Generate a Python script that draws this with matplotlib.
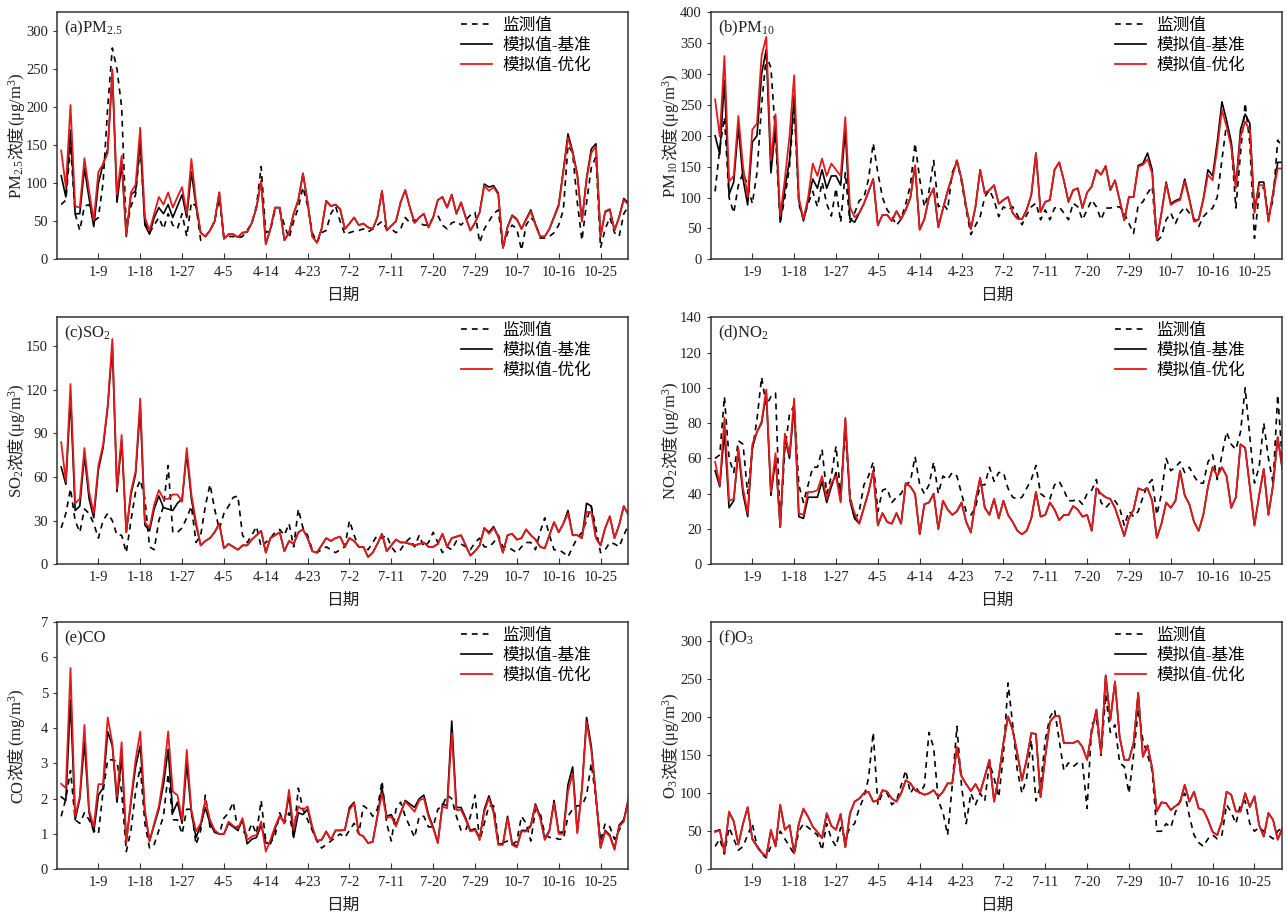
import numpy as np
import matplotlib
matplotlib.use("Agg")
import matplotlib.pyplot as plt
from matplotlib.transforms import IdentityTransform

plt.rcParams['font.family'] = ['Liberation Serif', 'Noto Sans CJK SC']
plt.rcParams['mathtext.fontset'] = 'custom'
plt.rcParams['mathtext.rm'] = 'Liberation Serif'
plt.rcParams['mathtext.it'] = 'Liberation Serif:italic'
plt.rcParams['axes.unicode_minus'] = False

# ---------- data ----------
TICK_POS = [8, 17, 26, 35, 44, 53, 62, 71, 80, 89, 98, 107, 116]
TICK_LABELS = ["1-9", "1-18", "1-27", "4-5", "4-14", "4-23", "7-2", "7-11",
               "7-20", "7-29", "10-7", "10-16", "10-25"]
LEGEND_LABELS = ["监测值", "模拟值-基准", "模拟值-优化"]

PM25_OBS = [72, 78, 150, 60, 38, 70, 72, 50, 55, 100,
            200, 278, 250, 200, 40, 70, 85, 150, 50, 35,
            45, 55, 40, 60, 45, 40, 60, 30, 75, 70,
            25, 30, 38, 50, 80, 28, 30, 30, 28, 30,
            38, 48, 70, 122, 35, 38, 65, 65, 45, 28,
            50, 68, 95, 70, 35, 22, 35, 38, 60, 70,
            50, 33, 35, 37, 38, 40, 36, 40, 45, 50,
            40, 40, 35, 40, 55, 48, 52, 48, 45, 45,
            55, 58, 45, 40, 48, 50, 45, 52, 58, 62,
            22, 40, 50, 60, 65, 15, 35, 45, 40, 12,
            45, 55, 48, 28, 28, 30, 35, 45, 65, 150,
            140, 75, 25, 75, 120, 135, 15, 40, 55, 35,
            30, 60, 70]
PM25_BASE = [110, 82, 170, 60, 60, 120, 80, 43, 100, 125,
             145, 245, 75, 125, 30, 85, 90, 155, 45, 33,
             55, 68, 60, 72, 55, 70, 85, 55, 115, 70,
             35, 30, 38, 50, 88, 27, 33, 33, 29, 35,
             36, 48, 68, 103, 20, 40, 68, 68, 25, 35,
             60, 78, 113, 75, 30, 22, 40, 77, 70, 72,
             66, 40, 47, 55, 45, 47, 42, 40, 55, 90,
             38, 44, 50, 75, 91, 68, 48, 55, 60, 42,
             55, 78, 82, 68, 85, 60, 75, 55, 38, 48,
             62, 99, 95, 97, 87, 15, 43, 58, 53, 40,
             53, 65, 46, 30, 30, 40, 56, 72, 117, 165,
             142, 112, 50, 107, 145, 152, 30, 63, 66, 38,
             56, 80, 74]
PM25_OPT = [143, 95, 203, 70, 68, 133, 90, 51, 115, 125,
            140, 250, 85, 136, 32, 88, 98, 173, 55, 38,
            60, 82, 72, 88, 68, 82, 95, 60, 132, 75,
            35, 30, 38, 50, 88, 27, 33, 33, 29, 35,
            36, 48, 68, 103, 20, 40, 68, 68, 25, 35,
            60, 78, 113, 75, 30, 22, 40, 77, 70, 72,
            66, 40, 47, 55, 45, 47, 42, 40, 55, 90,
            38, 44, 50, 75, 91, 68, 48, 55, 60, 42,
            55, 78, 82, 68, 85, 60, 75, 55, 38, 48,
            62, 97, 90, 95, 85, 15, 42, 57, 52, 40,
            52, 63, 45, 30, 30, 40, 55, 70, 115, 160,
            140, 110, 50, 105, 140, 148, 30, 62, 65, 38,
            55, 78, 72]

PM10_OBS = [110, 180, 230, 100, 75, 120, 140, 120, 90, 140,
            250, 330, 310, 200, 60, 100, 150, 250, 90, 65,
            90, 110, 85, 125, 90, 70, 115, 60, 140, 60,
            75, 95, 100, 130, 188, 140, 100, 80, 70, 55,
            65, 90, 120, 188, 130, 85, 110, 160, 85, 90,
            80, 140, 160, 125, 80, 40, 55, 69, 101, 112,
            96, 69, 85, 80, 85, 72, 56, 72, 85, 91,
            64, 80, 64, 83, 85, 75, 64, 91, 85, 64,
            80, 96, 85, 64, 83, 83, 85, 85, 75, 58,
            42, 88, 93, 107, 118, 29, 37, 64, 75, 58,
            75, 85, 75, 66, 53, 69, 77, 83, 101, 161,
            220, 188, 83, 172, 253, 188, 34, 107, 118, 69,
            96, 193, 182]
PM10_BASE = [200, 170, 290, 105, 125, 215, 130, 88, 190, 200,
             300, 340, 140, 215, 60, 115, 160, 265, 95, 62,
             95, 130, 115, 145, 115, 135, 135, 120, 210, 65,
             60, 75, 90, 110, 130, 55, 72, 72, 62, 78,
             65, 80, 100, 152, 48, 65, 100, 115, 52, 82,
             110, 135, 160, 130, 85, 49, 85, 145, 107, 112,
             120, 90, 96, 101, 75, 66, 65, 80, 104, 172,
             77, 93, 96, 145, 157, 128, 93, 112, 115, 83,
             108, 118, 145, 137, 151, 112, 128, 96, 63, 101,
             101, 152, 155, 172, 145, 31, 75, 125, 90, 95,
             98, 130, 98, 62, 65, 98, 145, 135, 190, 255,
             225, 190, 118, 210, 235, 220, 77, 125, 125, 62,
             108, 157, 157]
PM10_OPT = [259, 199, 329, 126, 135, 232, 150, 101, 210, 220,
            330, 360, 160, 235, 70, 130, 200, 298, 100, 65,
            100, 155, 135, 163, 135, 155, 145, 135, 230, 85,
            68, 75, 90, 110, 130, 55, 72, 72, 62, 78,
            65, 80, 100, 152, 48, 65, 100, 115, 52, 82,
            110, 135, 160, 130, 85, 49, 85, 145, 107, 112,
            120, 90, 96, 101, 75, 66, 65, 80, 104, 172,
            77, 93, 96, 145, 157, 128, 93, 112, 115, 83,
            108, 118, 145, 137, 151, 112, 128, 96, 63, 101,
            101, 150, 153, 162, 139, 31, 75, 123, 88, 93,
            96, 126, 96, 61, 64, 96, 137, 128, 180, 242,
            215, 182, 115, 199, 223, 209, 75, 120, 120, 61,
            107, 147, 147]

SO2_OBS = [25, 35, 52, 30, 22, 38, 35, 28, 18, 30,
           35, 30, 20, 20, 8, 30, 50, 58, 45, 12,
           10, 30, 40, 68, 22, 22, 25, 32, 40, 15,
           20, 40, 55, 38, 24, 35, 40, 46, 47, 20,
           15, 20, 26, 12, 15, 18, 22, 24, 20, 28,
           12, 38, 25, 20, 10, 8, 10, 12, 10, 8,
           10, 12, 30, 20, 12, 12, 10, 15, 20, 18,
           20, 12, 8, 10, 15, 18, 12, 20, 12, 15,
           22, 15, 8, 12, 10, 16, 14, 12, 10, 15,
           18, 12, 12, 15, 20, 12, 12, 10, 8, 12,
           15, 15, 10, 22, 32, 20, 10, 10, 8, 5,
           12, 18, 22, 30, 40, 25, 8, 10, 15, 14,
           12, 20, 27]
SO2_BASE = [67, 55, 115, 37, 40, 75, 45, 32, 65, 80,
            108, 150, 50, 85, 22, 48, 62, 108, 27, 23,
            38, 47, 39, 38, 37, 42, 45, 76, 45, 27,
            13, 16, 18, 22, 28, 11, 14, 12, 10, 13,
            13, 17, 20, 23, 8, 18, 20, 22, 9, 16,
            14, 22, 24, 18, 9, 8, 13, 18, 16, 18,
            19, 12, 18, 16, 12, 12, 5, 8, 14, 21,
            9, 13, 17, 15, 15, 14, 13, 14, 15, 12,
            12, 14, 21, 12, 18, 19, 20, 13, 6, 9,
            13, 25, 22, 26, 19, 8, 20, 21, 17, 18,
            24, 20, 17, 12, 11, 20, 29, 22, 28, 37,
            20, 20, 18, 42, 40, 18, 13, 25, 33, 18,
            27, 40, 34]
SO2_OPT = [84, 57, 124, 42, 45, 80, 50, 35, 68, 82,
           109, 155, 52, 89, 22, 50, 64, 114, 29, 25,
           41, 51, 45, 45, 48, 48, 43, 80, 48, 29,
           13, 16, 18, 22, 28, 11, 14, 12, 10, 13,
           13, 17, 20, 23, 8, 18, 20, 22, 9, 16,
           14, 22, 24, 18, 9, 8, 13, 18, 16, 18,
           19, 12, 18, 16, 12, 12, 5, 8, 14, 21,
           9, 13, 17, 15, 15, 14, 13, 14, 15, 12,
           12, 14, 21, 12, 18, 19, 20, 13, 6, 9,
           13, 25, 21, 25, 19, 8, 20, 21, 17, 18,
           24, 20, 17, 12, 11, 20, 29, 22, 28, 35,
           20, 20, 18, 36, 36, 18, 13, 25, 33, 18,
           27, 40, 34]

NO2_OBS = [60, 62, 95, 60, 52, 70, 68, 40, 65, 82,
           106, 90, 95, 97, 22, 65, 85, 90, 45, 35,
           45, 55, 55, 65, 40, 50, 67, 40, 75, 40,
           25, 30, 45, 50, 58, 30, 42, 43, 35, 38,
           40, 45, 47, 61, 45, 40, 45, 58, 40, 50,
           48, 52, 50, 40, 30, 28, 32, 45, 45, 55,
           47, 52, 52, 43, 38, 37, 38, 43, 48, 56,
           40, 38, 37, 45, 47, 42, 36, 36, 37, 34,
           40, 42, 48, 35, 32, 35, 36, 32, 22, 30,
           27, 30, 38, 45, 48, 28, 40, 60, 53, 55,
           58, 52, 55, 50, 46, 46, 58, 62, 48, 62,
           75, 68, 65, 75, 100, 72, 46, 55, 80, 60,
           46, 96, 58]
NO2_BASE = [53, 44, 75, 32, 36, 64, 40, 27, 66, 75,
            80, 97, 39, 60, 21, 72, 60, 90, 27, 26,
            38, 38, 38, 47, 35, 44, 52, 36, 82, 36,
            26, 23, 32, 41, 53, 22, 29, 24, 23, 29,
            23, 46, 44, 40, 17, 34, 35, 40, 20, 36,
            31, 28, 30, 35, 24, 18, 36, 49, 32, 28,
            37, 26, 36, 28, 24, 19, 17, 19, 26, 41,
            27, 28, 35, 31, 25, 28, 28, 33, 31, 27,
            28, 19, 43, 40, 38, 37, 32, 24, 16, 26,
            31, 43, 42, 43, 36, 15, 23, 35, 32, 36,
            53, 39, 34, 24, 19, 28, 44, 55, 50, 55,
            50, 32, 38, 68, 66, 44, 22, 39, 54, 28,
            45, 72, 54]
NO2_OPT = [58, 45, 83, 36, 37, 66, 43, 29, 68, 75,
           81, 99, 41, 63, 21, 74, 62, 94, 29, 28,
           41, 41, 42, 50, 37, 46, 50, 35, 83, 37,
           29, 23, 32, 41, 53, 22, 29, 24, 23, 29,
           23, 46, 44, 40, 17, 34, 35, 40, 20, 36,
           31, 28, 30, 35, 24, 18, 36, 49, 32, 28,
           37, 26, 36, 28, 24, 19, 17, 19, 26, 41,
           27, 28, 35, 31, 25, 28, 28, 33, 31, 27,
           28, 19, 43, 40, 38, 37, 32, 24, 16, 26,
           31, 43, 42, 43, 36, 15, 23, 35, 32, 36,
           53, 39, 34, 24, 19, 28, 44, 55, 50, 55,
           50, 32, 38, 68, 66, 44, 22, 39, 54, 28,
           45, 72, 54]

CO_OBS = [1.5, 2.0, 2.8, 1.4, 1.3, 1.6, 1.4, 1.1, 1.0, 2.2,
          3.1, 3.1, 3.05, 2.2, 0.5, 1.1, 2.2, 2.9, 1.3, 0.6,
          0.7, 1.1, 1.5, 2.7, 1.4, 1.4, 1.0, 1.7, 1.7, 0.7,
          1.1, 2.1, 1.2, 1.05, 1.0, 1.45, 1.6, 1.9, 1.1, 1.1,
          0.95, 1.3, 1.0, 1.95, 0.8, 0.75, 0.95, 1.6, 1.3, 1.6,
          0.9, 2.3, 1.7, 1.4, 1.1, 0.8, 0.6, 0.7, 0.8, 0.9,
          1.0, 0.9, 1.1, 1.3, 1.0, 1.8, 1.7, 1.5, 1.7, 2.5,
          1.3, 0.8, 1.7, 1.9, 1.5, 1.2, 0.9, 1.5, 1.5, 1.2,
          1.2, 1.7, 1.8, 2.1, 2.0, 1.5, 1.1, 1.1, 1.5, 2.1,
          0.8, 1.3, 1.8, 1.8, 0.85, 0.75, 0.8, 0.7, 0.8, 1.5,
          1.3, 0.8, 1.7, 1.6, 1.0, 0.9, 0.9, 0.85, 0.85, 1.5,
          1.7, 1.8, 1.8, 2.1, 3.0, 2.0, 0.8, 1.3, 1.2, 0.85,
          1.1, 1.4, 1.9]
CO_BASE = [2.05, 1.95, 4.8, 1.4, 2.0, 3.6, 1.6, 1.05, 2.1, 2.3,
           3.9, 3.5, 1.9, 3.2, 0.8, 1.9, 2.9, 3.5, 1.6, 0.8,
           1.25, 1.7, 2.4, 3.4, 1.6, 1.9, 1.3, 3.0, 1.6, 0.9,
           1.25, 1.75, 1.3, 1.05, 1.0, 1.0, 1.3, 1.2, 1.1, 1.4,
           0.72, 0.85, 0.9, 1.25, 0.75, 0.72, 1.15, 1.5, 1.35, 2.1,
           0.9, 1.6, 1.55, 1.7, 1.15, 0.8, 0.83, 1.07, 0.83, 1.1,
           1.1, 1.11, 1.75, 1.9, 1.0, 0.93, 0.74, 0.78, 1.5, 2.3,
           1.5, 1.55, 1.25, 1.6, 1.95, 1.85, 1.75, 2.0, 2.1, 1.55,
           1.2, 0.75, 1.85, 1.8, 4.2, 1.75, 1.75, 1.45, 1.1, 1.15,
           0.88, 1.7, 2.08, 1.65, 0.72, 0.72, 1.5, 0.72, 0.65, 1.1,
           1.1, 1.25, 1.85, 1.5, 0.87, 1.1, 1.95, 1.05, 1.05, 2.4,
           2.9, 1.05, 2.3, 4.3, 3.5, 2.1, 0.62, 1.1, 0.97, 0.58,
           1.25, 1.4, 2.0]
CO_OPT = [2.42, 2.3, 5.7, 1.5, 2.06, 4.09, 1.68, 1.2, 2.41, 2.41,
          4.3, 3.57, 2.06, 3.6, 0.74, 1.96, 3.1, 3.9, 1.68, 0.8,
          1.3, 1.78, 2.63, 3.9, 2.2, 2.1, 1.4, 3.38, 1.68, 1.07,
          1.3, 1.96, 1.4, 1.11, 1.0, 1.0, 1.35, 1.23, 1.16, 1.45,
          0.83, 0.93, 0.97, 1.35, 0.5, 0.83, 1.21, 1.51, 1.3, 2.25,
          1.11, 1.78, 1.68, 1.78, 1.21, 0.81, 0.83, 1.07, 0.83, 1.1,
          1.1, 1.11, 1.68, 1.87, 1.0, 0.93, 0.74, 0.78, 1.49, 2.15,
          1.45, 1.49, 1.21, 1.59, 1.92, 1.78, 1.63, 1.95, 2.01, 1.49,
          1.16, 0.74, 1.78, 1.73, 3.85, 1.68, 1.68, 1.4, 1.07, 1.11,
          0.85, 1.63, 2.01, 1.59, 0.69, 0.69, 1.45, 0.69, 0.62, 1.07,
          1.07, 1.21, 1.8, 1.45, 0.83, 1.07, 1.87, 1.0, 1.0, 2.2,
          2.72, 1.02, 2.25, 4.18, 3.38, 2.06, 0.6, 1.07, 0.93, 0.55,
          1.21, 1.35, 1.96]

O3_OBS = [30, 40, 20, 55, 40, 25, 30, 45, 60, 30,
          20, 15, 30, 35, 50, 40, 30, 20, 50, 60,
          55, 50, 45, 25, 60, 40, 30, 55, 40, 55,
          60, 80, 95, 120, 180, 85, 100, 100, 85, 90,
          110, 130, 100, 110, 100, 110, 180, 160, 90, 75,
          45, 110, 188, 110, 60, 100, 85, 100, 90, 140,
          120, 95, 150, 245, 190, 130, 100, 120, 170, 90,
          110, 170, 200, 210, 170, 130, 140, 135, 140, 140,
          80, 190, 200, 150, 230, 180, 190, 140, 135, 100,
          150, 210, 170, 150, 130, 50, 50, 60, 55, 75,
          90, 100, 70, 45, 35, 30, 40, 45, 40, 45,
          85, 75, 60, 85, 90, 60, 50, 55, 50, 45,
          40, 50, 55]
O3_BASE = [50, 52, 23, 75, 63, 33, 60, 81, 40, 31,
           22, 17, 51, 30, 84, 52, 58, 21, 60, 79,
           69, 56, 49, 41, 73, 57, 52, 72, 29, 73,
           89, 93, 100, 102, 89, 90, 104, 102, 93, 89,
           100, 117, 113, 104, 101, 98, 100, 104, 95, 102,
           113, 113, 160, 122, 112, 103, 112, 101, 122, 144,
           89, 122, 166, 201, 183, 152, 117, 144, 179, 178,
           95, 148, 194, 201, 202, 166, 166, 166, 169, 161,
           144, 181, 210, 152, 255, 196, 247, 174, 144, 144,
           166, 232, 148, 163, 133, 76, 88, 87, 78, 83,
           88, 111, 89, 102, 80, 78, 65, 49, 45, 63,
           102, 98, 76, 76, 100, 82, 96, 58, 43, 74,
           65, 39, 54]
O3_OPT = [49, 51, 22, 76, 63, 32, 60, 82, 39, 30,
          22, 17, 52, 30, 85, 52, 58, 21, 60, 80,
          69, 56, 49, 41, 74, 57, 52, 73, 29, 74,
          89, 93, 100, 102, 89, 90, 104, 102, 93, 89,
          100, 117, 113, 104, 101, 98, 100, 104, 95, 102,
          113, 113, 161, 122, 112, 103, 112, 101, 122, 144,
          89, 122, 166, 201, 183, 152, 117, 144, 179, 178,
          95, 148, 194, 201, 202, 166, 166, 166, 169, 161,
          144, 181, 210, 152, 255, 196, 247, 174, 144, 144,
          166, 232, 148, 163, 133, 76, 88, 87, 78, 83,
          88, 111, 89, 102, 80, 78, 65, 49, 45, 63,
          102, 98, 76, 76, 100, 82, 96, 58, 43, 74,
          65, 39, 54]

# (title, ylabel pieces, ylim top, y ticks, obs, base, opt)
PANELS = [
    ("(a)PM$_{2.5}$", ["PM$_{2.5}$", "浓度", "(μg/m$^3$)"], 325,
     np.arange(0, 301, 50), PM25_OBS, PM25_BASE, PM25_OPT),
    ("(b)PM$_{10}$", ["PM$_{10}$", "浓度", "(μg/m$^3$)"], 400,
     np.arange(0, 401, 50), PM10_OBS, PM10_BASE, PM10_OPT),
    ("(c)SO$_2$", ["SO$_2$", "浓度", "(μg/m$^3$)"], 170,
     np.arange(0, 151, 30), SO2_OBS, SO2_BASE, SO2_OPT),
    ("(d)NO$_2$", ["NO$_2$", "浓度", "(μg/m$^3$)"], 140,
     np.arange(0, 141, 20), NO2_OBS, NO2_BASE, NO2_OPT),
    ("(e)CO", ["CO", "浓度", "(mg/m$^3$)"], 7,
     np.arange(0, 8, 1), CO_OBS, CO_BASE, CO_OPT),
    ("(f)O$_3$", ["O$_3$", "浓度", "(μg/m$^3$)"], 325,
     np.arange(0, 301, 50), O3_OBS, O3_BASE, O3_OPT),
]

RED = "#e31a1c"
SPINE = "#333333"
TXT = "#222222"

fig = plt.figure(figsize=(12.87, 9.15), dpi=100)
lefts = [0.0443, 0.5524]
bottoms = [0.7166, 0.3833, 0.0500]
W, H = 0.4440, 0.2700

axes = []
for k, (title, ylab, ytop, yticks, obs, base, opt) in enumerate(PANELS):
    ax = fig.add_axes([lefts[k % 2], bottoms[k // 2], W, H])
    axes.append(ax)
    ax.plot(np.arange(len(obs)), obs, color="black", lw=1.2,
            linestyle=(0, (3.5, 3)), label=LEGEND_LABELS[0])
    ax.plot(np.arange(len(base)), base, color="black", lw=1.2,
            label=LEGEND_LABELS[1])
    ax.plot(np.arange(len(opt)), opt, color=RED, lw=1.3,
            label=LEGEND_LABELS[2])

    ax.set_xlim(-0.9, 122)
    ax.set_ylim(0, ytop)
    ax.set_xticks(TICK_POS)
    ax.set_xticklabels(TICK_LABELS)
    ax.set_yticks(yticks)
    ax.tick_params(axis="x", direction="in", length=4, labelsize=10.5,
                   colors=SPINE, labelcolor=TXT, pad=5)
    ax.tick_params(axis="y", direction="out", length=3, labelsize=10.5,
                   colors=SPINE, labelcolor=TXT)
    for s in ax.spines.values():
        s.set_color(SPINE)
        s.set_linewidth(1.1)

    ax.set_xlabel("日期", fontsize=12, color=TXT, labelpad=6)
    ax.text(0.012, 0.935, title, transform=ax.transAxes, ha="left",
            va="center", fontsize=12, color=TXT)

    ax.legend(loc="upper right", bbox_to_anchor=(0.955, 1.025), frameon=False,
              fontsize=12, handlelength=1.9, handletextpad=0.6,
              labelspacing=0.25, borderaxespad=0.3)

# y labels: mixed serif / CJK pieces chained along a vertical baseline
fig.canvas.draw()
renderer = fig.canvas.get_renderer()
fw, fh = fig.bbox.width, fig.bbox.height
for ax, panel in zip(axes, PANELS):
    pieces = panel[1]
    texts = [fig.text(0, 0, p, rotation=90, rotation_mode="anchor",
                      ha="left", va="baseline", fontsize=12, color=TXT,
                      transform=IdentityTransform()) for p in pieces]
    lengths = [t.get_window_extent(renderer).height for t in texts]
    pos = ax.get_position()
    xb = pos.x0 * fw - 35
    y = (pos.y0 + pos.y1) / 2 * fh - sum(lengths) / 2
    for t, ln in zip(texts, lengths):
        t.set_position((xb, y))
        y += ln

fig.savefig("out.png", dpi=100)
